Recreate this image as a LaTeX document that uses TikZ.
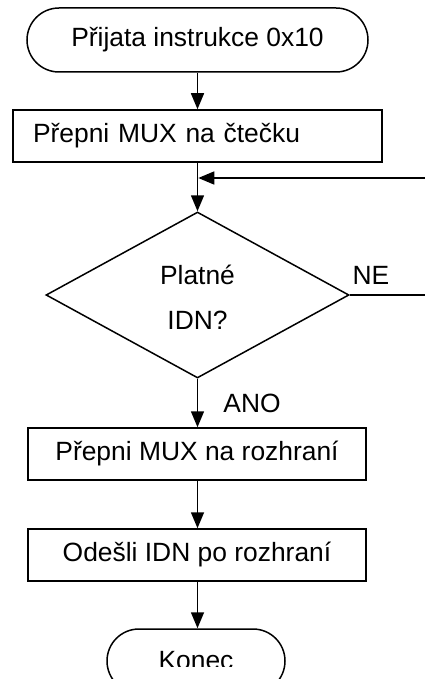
\documentclass[tikz,border=0pt]{standalone}
\usepackage{fontspec}
\setmainfont{Liberation Sans}
\usetikzlibrary{arrows.meta,shapes.geometric,shapes.misc}
\begin{document}
\begin{tikzpicture}[x=1pt,y=-1pt,
  font=\fontsize{26.4}{30}\selectfont,
  line width=1.5pt,
  arr/.style={-{Triangle[width=13pt,length=16pt]}},
  term/.style={draw,rounded rectangle,minimum height=64pt,inner sep=0pt},
  proc/.style={draw,rectangle,minimum height=52pt,inner sep=0pt},
  dec/.style={draw,diamond,minimum width=303pt,minimum height=166pt,inner sep=0pt,align=center},
  lbl/.style={inner sep=0pt}]
\useasboundingbox (0,0) rectangle (425,679);
\node[term,minimum width=341pt] (start) at (197.5,40) {Přijata instrukce 0x10};
\node[proc,minimum width=369pt,text width=329pt,align=left] (b1) at (197.5,136) {Přepni MUX na čtečku};
\node[dec] (d) at (197.5,295) {};
\node[lbl] (t1) at (197.5,275) {Platné};
\node[lbl] (t2) at (197.5,320) {IDN?};
\node[proc,minimum width=338pt] (b2) at (197,454) {Přepni MUX na rozhraní};
\node[proc,minimum width=338pt] (b3) at (197,555) {Odešli IDN po rozhraní};
\node[term,minimum width=178pt] (end) at (196,661) {};
\begin{scope}
\clip (100,600) rectangle (300,666);
\node[lbl] (endtxt) at (196,661) {Konec};
\end{scope}
\coordinate (j) at (197.5,178);
\coordinate (fb) at (425,178);
\coordinate (ne) at (425,295);
\draw[arr] (start.south -| j) -- (b1.north -| j);
\draw[arr] (b1.south -| j) -- (d.north);
\draw[arr] (fb) -- ([xshift=0.75pt]j);
\draw (d.east) -- (ne);
\node[lbl] (nel) at (371,275) {NE};
\draw[arr] (d.south) -- (b2.north -| d.south);
\node[lbl] (anol) at (252,403) {ANO};
\draw[arr] (b2.south -| j) -- (b3.north -| j);
\draw[arr] (b3.south -| j) -- (end.north -| j);
\end{tikzpicture}
\end{document}
